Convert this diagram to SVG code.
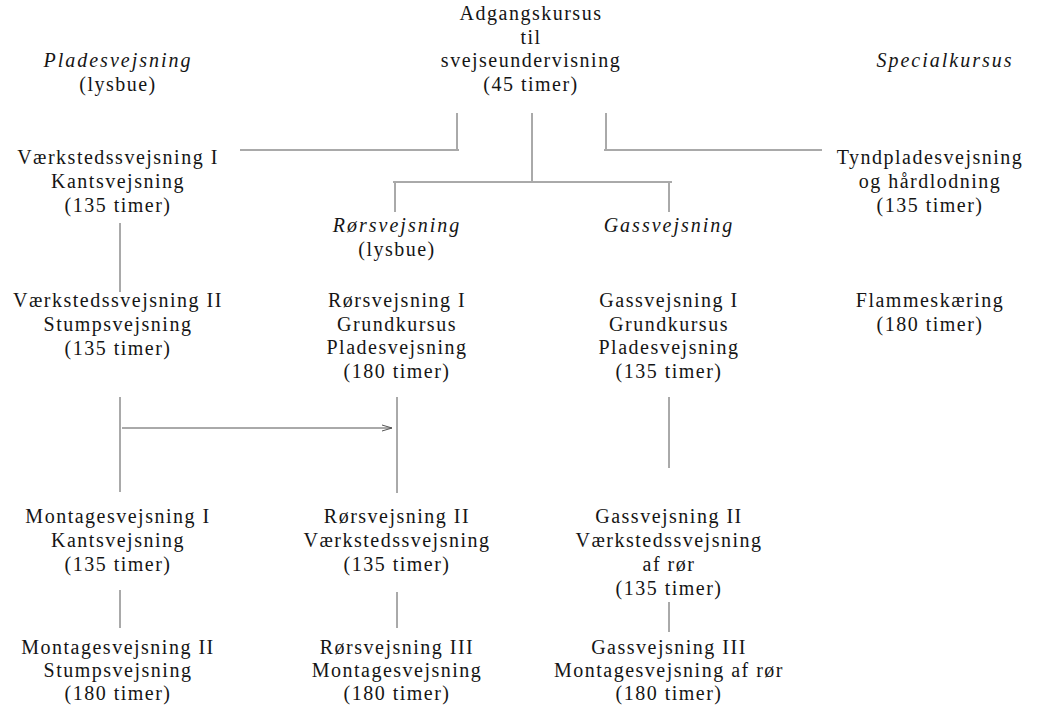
<svg xmlns="http://www.w3.org/2000/svg" width="1040" height="705" viewBox="0 0 1040 705">
<style>
text{font-family:"Liberation Serif","Times New Roman",serif;font-size:20px;fill:#151515;text-anchor:middle;letter-spacing:1.5px}
.it{font-style:italic;letter-spacing:2px}
.c line,.c path{stroke:#555;stroke-width:1;fill:none}
</style>
<defs>
<marker id="ah" viewBox="0 0 10 10" refX="10" refY="5" markerWidth="10" markerHeight="10" markerUnits="userSpaceOnUse" orient="auto">
<path d="M0,2 L10,5 L0,8" fill="none" stroke="#555" stroke-width="1"/>
</marker>
</defs>
<rect width="1040" height="705" fill="#fff"/>
<g id="adgang"><text x="531" y="20">Adgangskursus</text><text x="531" y="44">til</text><text x="531" y="67">svejseundervisning</text><text x="531" y="91">(45 timer)</text></g>
<g id="plade-head"><text class="it" x="118" y="67">Pladesvejsning</text><text x="118" y="91">(lysbue)</text></g>
<g id="special-head"><text class="it" x="945" y="67">Specialkursus</text></g>
<g id="vaerk1"><text x="118" y="164">Værkstedssvejsning I</text><text x="118" y="188">Kantsvejsning</text><text x="118" y="212">(135 timer)</text></g>
<g id="tynd"><text x="930" y="164">Tyndpladesvejsning</text><text x="930" y="188">og hårdlodning</text><text x="930" y="212">(135 timer)</text></g>
<g id="ror-head"><text class="it" x="397" y="232">Rørsvejsning</text><text x="397" y="256">(lysbue)</text></g>
<g id="gas-head"><text class="it" x="669" y="232">Gassvejsning</text></g>
<g id="vaerk2"><text x="118" y="307">Værkstedssvejsning II</text><text x="118" y="331">Stumpsvejsning</text><text x="118" y="355">(135 timer)</text></g>
<g id="ror1"><text x="397" y="307">Rørsvejsning I</text><text x="397" y="331">Grundkursus</text><text x="397" y="354">Pladesvejsning</text><text x="397" y="378">(180 timer)</text></g>
<g id="gas1"><text x="669" y="307">Gassvejsning I</text><text x="669" y="331">Grundkursus</text><text x="669" y="354">Pladesvejsning</text><text x="669" y="378">(135 timer)</text></g>
<g id="flamme"><text x="930" y="307">Flammeskæring</text><text x="930" y="331">(180 timer)</text></g>
<g id="montage1"><text x="118" y="523">Montagesvejsning I</text><text x="118" y="547">Kantsvejsning</text><text x="118" y="571">(135 timer)</text></g>
<g id="ror2"><text x="397" y="523">Rørsvejsning II</text><text x="397" y="547">Værkstedssvejsning</text><text x="397" y="571">(135 timer)</text></g>
<g id="gas2"><text x="669" y="523">Gassvejsning II</text><text x="669" y="547">Værkstedssvejsning</text><text x="669" y="571">af rør</text><text x="669" y="595">(135 timer)</text></g>
<g id="montage2"><text x="118" y="654">Montagesvejsning II</text><text x="118" y="677">Stumpsvejsning</text><text x="118" y="700">(180 timer)</text></g>
<g id="ror3"><text x="397" y="654">Rørsvejsning III</text><text x="397" y="677">Montagesvejsning</text><text x="397" y="700">(180 timer)</text></g>
<g id="gas3"><text x="669" y="654">Gassvejsning III</text><text x="669" y="677">Montagesvejsning af rør</text><text x="669" y="700">(180 timer)</text></g>
<g id="connectors" class="c">
<line x1="457" y1="113" x2="457" y2="149"/>
<line x1="240" y1="150" x2="459" y2="150"/>
<line x1="532" y1="113" x2="532" y2="181"/>
<line x1="393" y1="182" x2="672" y2="182"/>
<line x1="395" y1="183" x2="395" y2="212"/>
<line x1="669" y1="183" x2="669" y2="212"/>
<line x1="606" y1="113" x2="606" y2="149"/>
<line x1="604" y1="150" x2="822" y2="150"/>
<line x1="120" y1="223" x2="120" y2="292"/>
<line x1="120" y1="397" x2="120" y2="492"/>
<line x1="122" y1="428" x2="392" y2="428" marker-end="url(#ah)"/>
<line x1="397" y1="397" x2="397" y2="493"/>
<line x1="669" y1="397" x2="669" y2="468"/>
<line x1="120" y1="590" x2="120" y2="628"/>
<line x1="397" y1="592" x2="397" y2="628"/>
<line x1="669" y1="602" x2="669" y2="632"/>
</g>
</svg>
